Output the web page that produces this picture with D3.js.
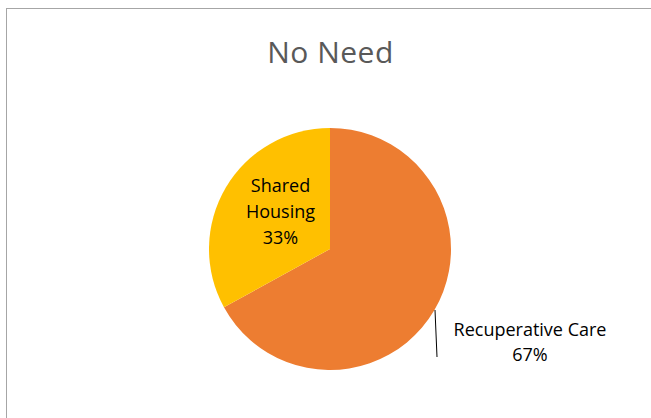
<!DOCTYPE html>
<html>
<head>
<meta charset="utf-8">
<script src="https://cdn.jsdelivr.net/npm/d3@7"></script>
<style>
  html, body { margin: 0; padding: 0; background: #fff; }
  svg { display: block; }
  text { font-family: "Open Sans", "Noto Sans", sans-serif; }
</style>
</head>
<body>
<svg id="chart" width="651" height="418"></svg>
<script>
// Share of "No Need" responses by service type (percent)
const categories = ["Recuperative Care", "Shared Housing"];
const values = [67, 33];
const colors = ["#ED7D31", "#FFC000"];
const title = "No Need";

const svg = d3.select("#chart");

// chart area frame (runs past the right and bottom edges of the view)
svg.append("rect")
  .attr("x", 6.5).attr("y", 8.5)
  .attr("width", 700).attr("height", 500)
  .attr("fill", "#fff")
  .attr("stroke", "#a6a6a6")
  .attr("stroke-width", 1);

svg.append("text")
  .attr("x", 330.5).attr("y", 63)
  .attr("text-anchor", "middle")
  .attr("font-size", 30)
  .attr("letter-spacing", 0.5)
  .attr("fill", "#595959")
  .text(title);

const cx = 330, cy = 249, r = 121;
const pie = d3.pie().sort(null).value(d => d.value);
const arcs = pie(categories.map((c, i) => ({ name: c, value: values[i], color: colors[i] })));
const arc = d3.arc().innerRadius(0).outerRadius(r);

const g = svg.append("g").attr("transform", `translate(${cx},${cy})`);
g.selectAll("path.slice")
  .data(arcs)
  .join("path")
  .attr("class", "slice")
  .attr("d", arc)
  .attr("fill", d => d.data.color);

const total = d3.sum(values);
const pct = v => Math.round(v / total * 100) + "%";

// Shared Housing: label inside the slice
const sh = arcs[1];
const shLines = ["Shared", "Housing", pct(sh.data.value)];
const shText = g.append("text")
  .attr("text-anchor", "middle")
  .attr("font-size", 18)
  .attr("fill", "#000");
shText.selectAll("tspan")
  .data(shLines)
  .join("tspan")
  .attr("x", -49.5)
  .attr("y", (d, i) => -57 + i * 26)
  .text(d => d);

// Recuperative Care: label outside with leader line
const rc = arcs[0];
g.append("line")
  .attr("x1", 105).attr("y1", 61)
  .attr("x2", 107).attr("y2", 108)
  .attr("stroke", "#000")
  .attr("stroke-width", 1);

const rcText = g.append("text")
  .attr("text-anchor", "middle")
  .attr("font-size", 18)
  .attr("fill", "#000");
rcText.selectAll("tspan")
  .data([rc.data.name, pct(rc.data.value)])
  .join("tspan")
  .attr("x", 200)
  .attr("y", (d, i) => 87 + i * 25)
  .text(d => d);
</script>
</body>
</html>
